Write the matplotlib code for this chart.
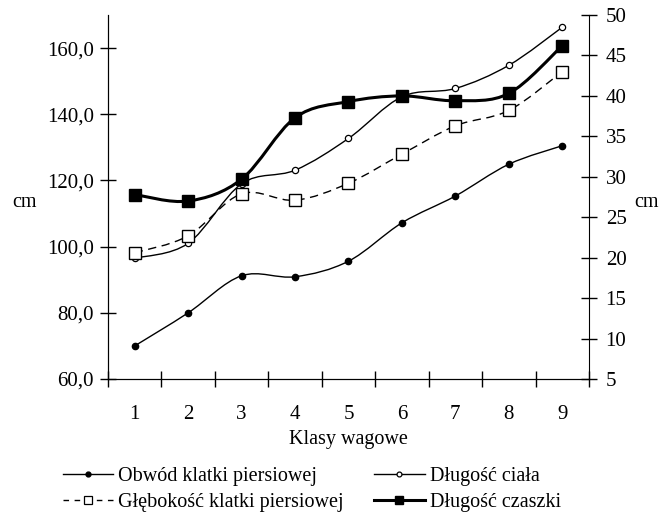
import matplotlib.pyplot as plt
import numpy as np
from matplotlib.path import Path
from matplotlib.patches import PathPatch
from matplotlib.lines import Line2D

plt.rcParams['font.family'] = ['Liberation Serif', 'DejaVu Serif']

# data
klasy = [1, 2, 3, 4, 5, 6, 7, 8, 9]
obwod = [70.0, 80.0, 91.2, 90.9, 95.6, 107.2, 115.3, 124.9, 130.5]        # left axis
dl_ciala = [96.5, 101.0, 119.0, 123.1, 132.7, 145.3, 147.8, 154.8, 166.3]  # left axis
glebokosc = [20.6, 22.7, 27.9, 27.1, 29.2, 32.8, 36.3, 38.2, 43.0]        # right axis
dl_czaszki = [27.8, 27.0, 29.7, 37.3, 39.3, 40.0, 39.4, 40.3, 46.2]       # right axis

left_ticks = [60, 80, 100, 120, 140, 160]
right_ticks = [5, 10, 15, 20, 25, 30, 35, 40, 45, 50]


def smooth_path(x, y):
    # catmull-rom segments as cubic bezier, like a spreadsheet "smoothed line"
    p = np.column_stack([x, y]).astype(float)
    ext = np.vstack([p[0], p, p[-1]])
    verts = [p[0]]
    codes = [Path.MOVETO]
    for i in range(1, len(p)):
        p0, p1, p2, p3 = ext[i - 1], ext[i], ext[i + 1], ext[i + 2]
        verts += [p1 + (p2 - p0) / 6, p2 - (p3 - p1) / 6, p2]
        codes += [Path.CURVE4] * 3
    return Path(verts, codes)


fig = plt.figure(figsize=(6.6, 5.17), dpi=100)
ax = fig.add_axes([0.1636, 0.2669, 0.7288, 0.7041])
ax2 = ax.twinx()

# left axis series
ax.add_patch(PathPatch(smooth_path(klasy, obwod), fill=False, lw=1.0, ec='black'))
ax.plot(klasy, obwod, ls='none', marker='o', ms=4.5, color='black')
ax.add_patch(PathPatch(smooth_path(klasy, dl_ciala), fill=False, lw=1.0, ec='black'))
ax.plot(klasy, dl_ciala, ls='none', marker='o', ms=4.5, mfc='white', mec='black', mew=0.9)

# right axis series
ax2.add_patch(PathPatch(smooth_path(klasy, glebokosc), fill=False, lw=1.0, ec='black',
                        ls=(0, (6, 4))))
ax2.plot(klasy, glebokosc, ls='none', marker='s', ms=8, mfc='white', mec='black', mew=1.0)
ax2.add_patch(PathPatch(smooth_path(klasy, dl_czaszki), fill=False, lw=2.2, ec='black'))
ax2.plot(klasy, dl_czaszki, ls='none', marker='s', ms=8, color='black')

ax.set_xlim(0.5, 9.5)
ax.set_ylim(60, 170)
ax2.set_ylim(5, 50)

ax.set_xticks(klasy)
ax.set_xticks(np.arange(0.5, 10, 1), minor=True)
ax.tick_params(axis='x', which='major', length=0, pad=19, labelsize=15)
ax.tick_params(axis='x', which='minor', direction='inout', length=11, width=1)
ax.set_yticks(left_ticks)
ax.set_yticklabels([f'{v:.1f}'.replace('.', ',') for v in left_ticks])
ax.tick_params(axis='y', direction='inout', length=12, width=1, labelsize=15, pad=4)
ax2.set_yticks(right_ticks)
ax2.tick_params(axis='y', direction='inout', length=12, width=1, labelsize=15, pad=6)

for a in (ax, ax2):
    a.spines['top'].set_visible(False)
ax.spines['right'].set_visible(False)

ax.set_xlabel('Klasy wagowe', fontsize=14.5, labelpad=4)
ax.set_ylabel('cm', fontsize=14.5, rotation=0, ha='center', va='center')
ax.yaxis.set_label_coords(-0.173, 0.485)
ax2.set_ylabel('cm', fontsize=14.5, rotation=0, ha='center', va='center')
ax2.yaxis.set_label_coords(1.12, 0.485)

handles = [
    Line2D([], [], color='black', lw=1.0, marker='o', ms=3.5),
    Line2D([], [], color='black', lw=1.0, ls=(0, (4, 4)), marker='s', ms=6,
           mfc='white', mew=0.9),
    Line2D([], [], color='black', lw=1.0, marker='o', ms=3.5, mfc='white', mew=0.9),
    Line2D([], [], color='black', lw=2.2, marker='s', ms=6),
]
labels = ['Obwód klatki piersiowej', 'Głębokość klatki piersiowej',
          'Długość ciała', 'Długość czaszki']
fig.legend(handles, labels, ncol=2, frameon=False, fontsize=14.5,
           loc='upper left', bbox_to_anchor=(0.0955, 0.097),
           handlelength=2.5, handletextpad=0.25, columnspacing=1.5,
           labelspacing=0.36, borderaxespad=0, borderpad=0)

fig.savefig('out.png', dpi=100)
